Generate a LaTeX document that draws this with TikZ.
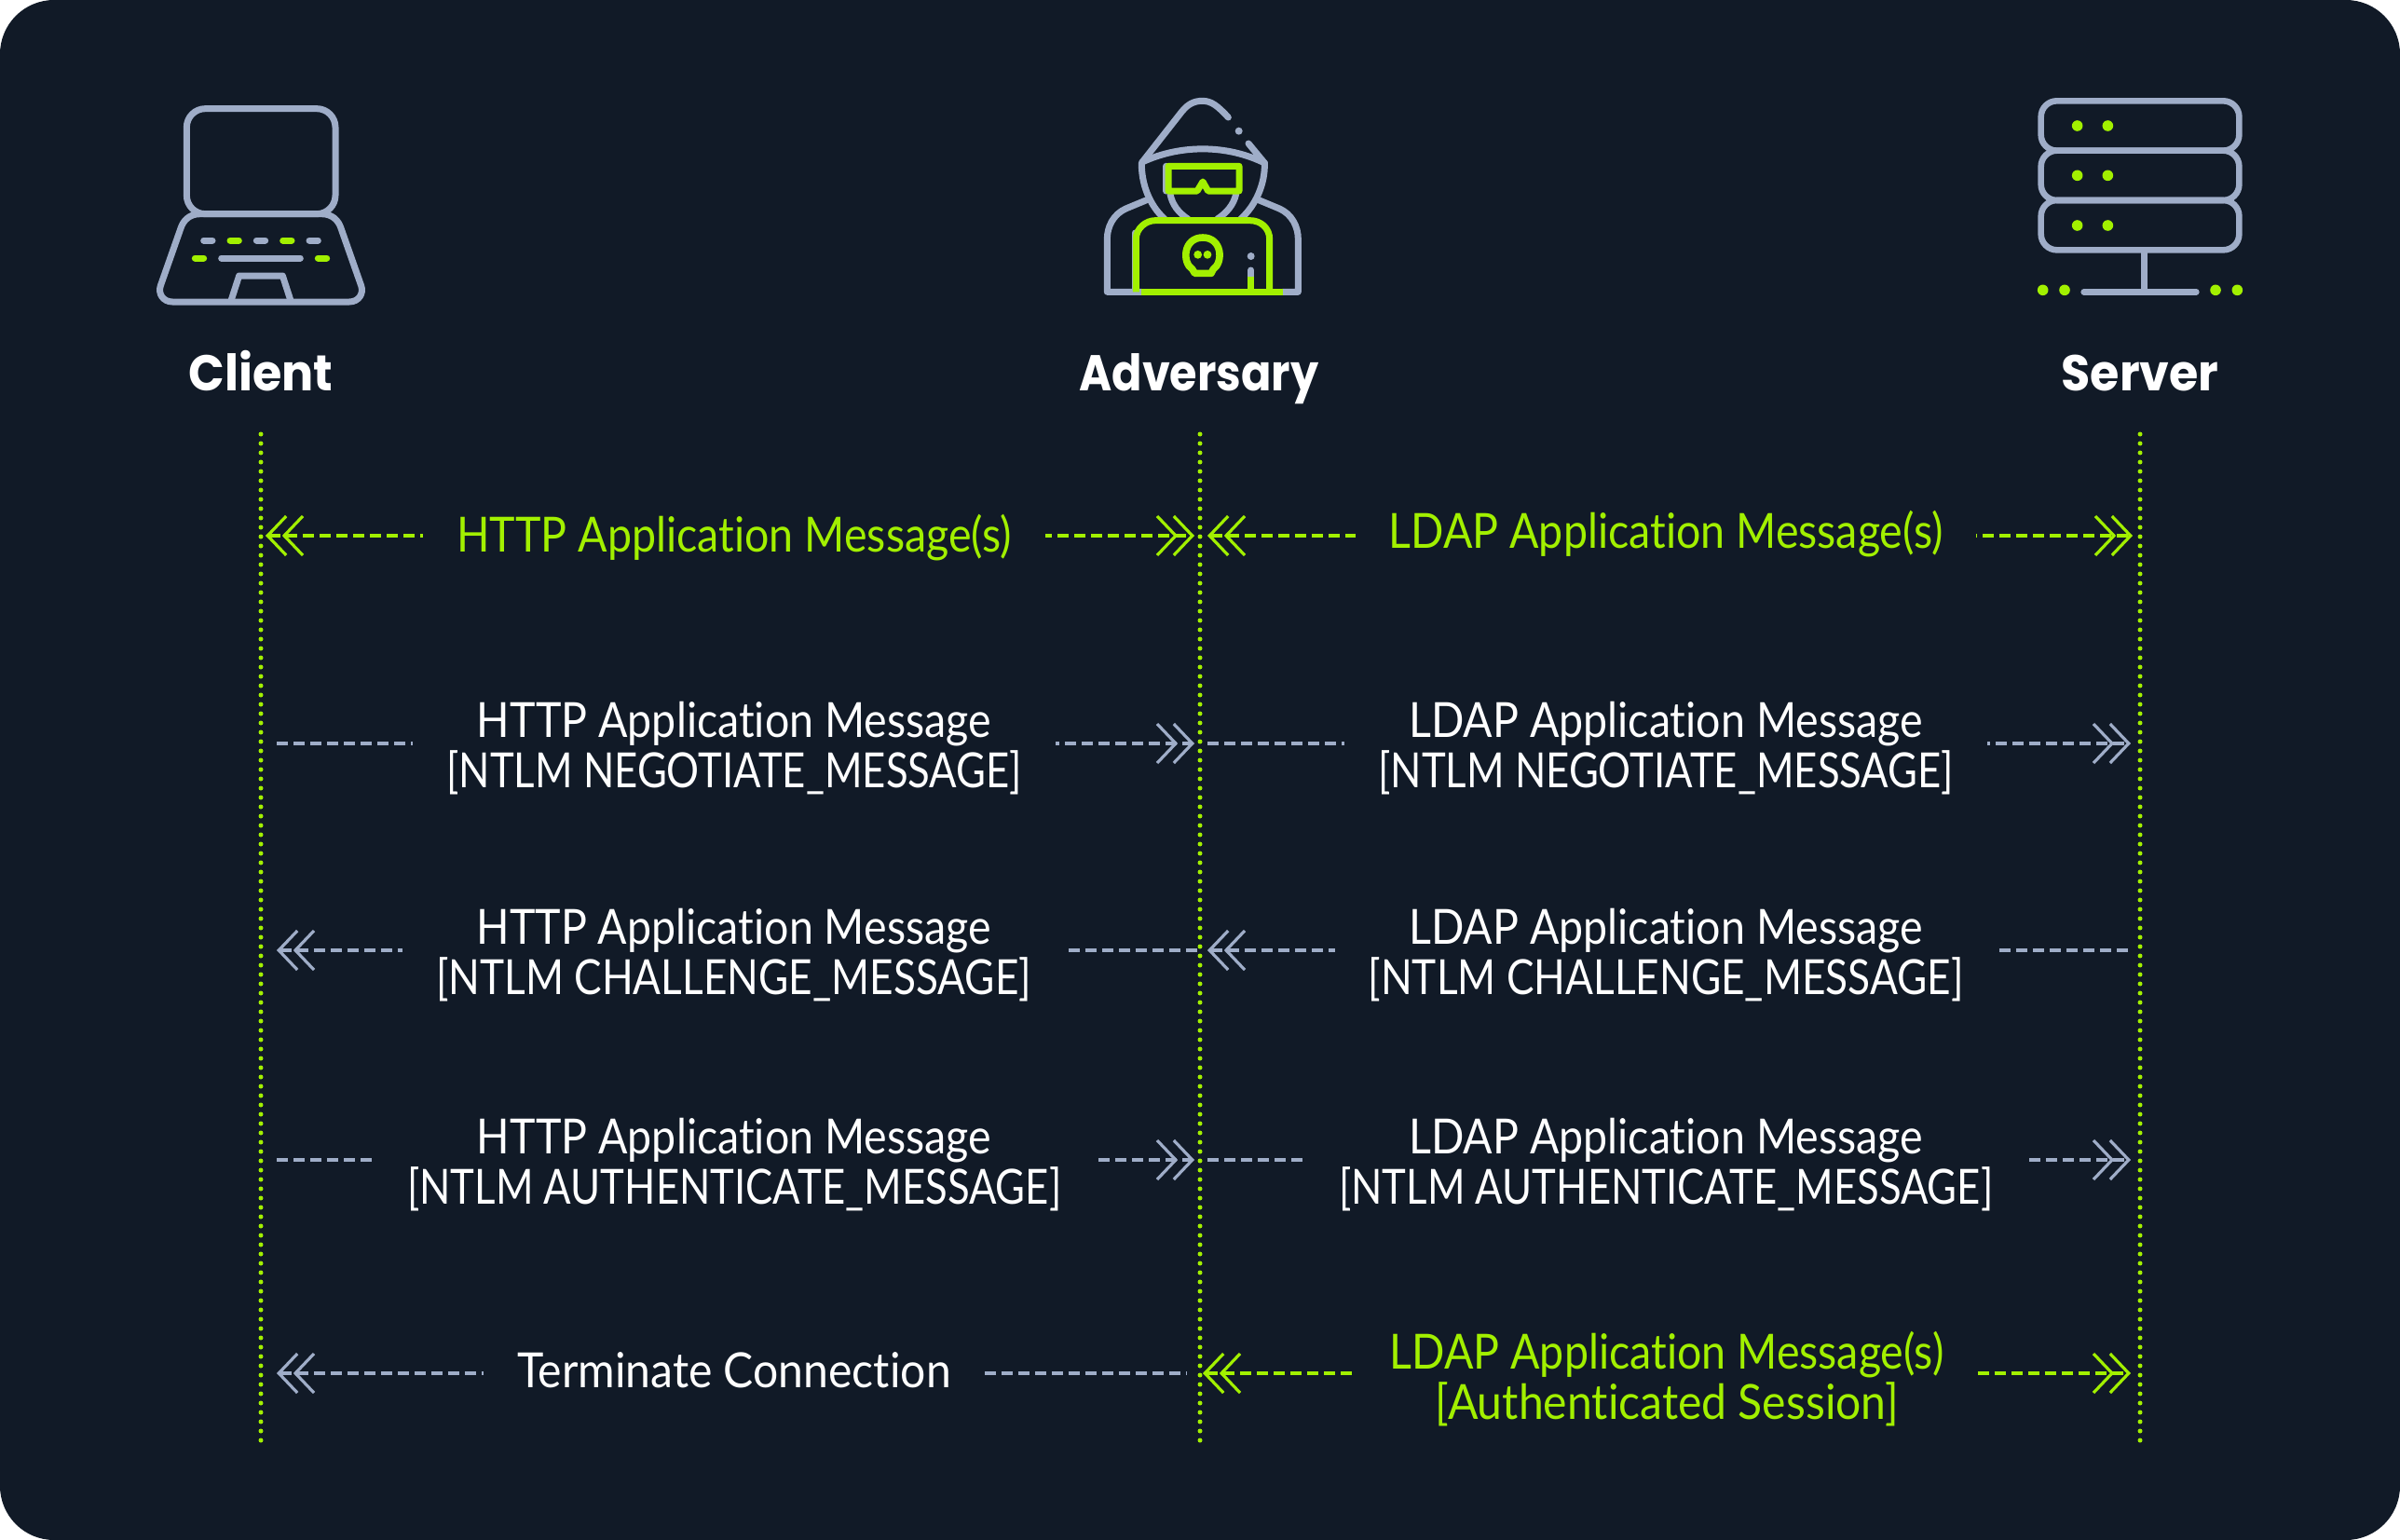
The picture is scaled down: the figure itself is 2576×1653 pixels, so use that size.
\documentclass[tikz,border=0pt]{standalone}
\usepackage{fontspec}
\setmainfont{Lato}[FakeStretch=0.895,Ligatures={NoCommon}]
\newfontfamily\capsfont{Lato}[FakeStretch=0.84,Ligatures={NoCommon}]
\newfontfamily\chalfont{Lato}[FakeStretch=0.85,Ligatures={NoCommon}]
\newfontfamily\wideFont{Lato}[FakeStretch=0.925,Ligatures={NoCommon}]
\newfontfamily\headfont{Poppins}[FakeStretch=0.94]
\newfontfamily\headfontB{Poppins}[FakeStretch=0.885]
\usetikzlibrary{arrows.meta}

\definecolor{cardBg}{HTML}{111A27}
\definecolor{limeC}{HTML}{A2F000}
\definecolor{steelC}{HTML}{9FADC8}

\tikzset{
    Dbl/.tip={Straight Barb[length=10pt,width=21pt,line width=1.6pt,sep=-3pt] Straight Barb[length=10pt,width=21pt,line width=1.6pt]}
}
\tikzstyle{pS}=[coordinate]
\tikzstyle{hS}=[text=white,inner sep=0pt,anchor=base,font=\bfseries\fontsize{27}{30}\selectfont]
\tikzstyle{lifeS}=[draw=limeC,line width=2.5pt,line cap=round,dash pattern=on 0pt off 5pt]
\tikzstyle{eS}=[draw=steelC,line width=1.7pt,dash pattern=on 6pt off 3pt]
\tikzstyle{eG}=[draw=limeC,line width=1.7pt,dash pattern=on 6pt off 3pt]
\tikzstyle{eNS}=[fill=cardBg,text=white,inner xsep=18pt,inner ysep=0pt,align=center,font=\fontsize{26}{27}\selectfont]
\tikzstyle{eNG}=[eNS,text=limeC]
\tikzstyle{iS}=[draw=steelC,line width=3.5pt,line cap=round,line join=round]
\tikzstyle{iG}=[draw=limeC,line width=3.5pt,line cap=round,line join=round]

\begin{document}
\begin{tikzpicture}[x=0.5pt,y=-0.5pt]
    \useasboundingbox (0,0) rectangle (2576,1653);
    \fill[white] (0,0) rectangle (2576,1653);
    \fill[cardBg,rounded corners=29pt] (0,0) rectangle (2576,1653);

    % laptop
    \begin{scope}[shift={(130,80)},x=0.16667pt,y=-0.16667pt]
        \draw[iS,rounded corners=10pt] (211,449) -- (211,110) -- (690,110) -- (690,449) -- cycle;
        \draw[iS] (255,449) -- (645,449) .. controls (680,449) and (700,470) .. (708,495) -- (773,680)
            .. controls (782,705) and (765,732) .. (735,732) -- (165,732)
            .. controls (135,732) and (118,705) .. (127,680) -- (192,495)
            .. controls (200,470) and (220,449) .. (255,449) -- cycle;
        \draw[iS] (355,725) -- (380,648) -- (520,648) -- (545,725);
        \draw[iS] (266,534) -- (294,534) (436,534) -- (464,534) (606,534) -- (634,534) (323,591) -- (577,591);
        \draw[iG] (351,534) -- (379,534) (521,534) -- (549,534) (238,591) -- (266,591) (634,591) -- (662,591);
    \end{scope}

    % adversary
    \begin{scope}[shift={(1150,80)},x=0.16667pt,y=-0.16667pt]
        \draw[iS] (505,138) .. controls (470,100) and (450,85) .. (422,85) .. controls (395,85) and (375,95) .. (355,120) -- (228,282);
        \draw[iS] (570,222) -- (622,285);
        \fill[steelC] (539,182) circle[radius=2pt];
        \draw[iS] (228,282) .. controls (350,225) and (500,225) .. (622,285);
        \draw[iS] (226,285) .. controls (225,350) and (250,420) .. (300,465);
        \draw[iS] (622,285) .. controls (624,350) and (595,420) .. (545,465);
        \draw[iS] (240,405) -- (175,432) .. controls (135,450) and (115,490) .. (115,530) -- (115,700) -- (225,700);
        \draw[iS] (605,405) -- (670,432) .. controls (710,450) and (730,490) .. (730,530) -- (730,700) -- (680,700);
        \draw[iS] (318,385) .. controls (325,420) and (345,445) .. (375,465);
        \draw[iS] (530,385) .. controls (522,420) and (500,445) .. (470,465);
        \draw[iS] (305,295) -- (305,375);
        \draw[iS] (205,510) -- (205,700);
        \draw[iG] (312,295) -- (540,295) -- (540,375) -- (440,375) -- (423,345) -- (405,375) -- (312,375) -- cycle;
        \draw[iG,line cap=butt] (208,700) -- (208,530) .. controls (208,495) and (240,470) .. (270,470)
            -- (575,470) .. controls (610,470) and (638,495) .. (638,530) -- (638,700);
        \draw[iG,line cap=butt] (225,700) -- (680,700);
        \draw[iG,line width=3.8pt] (390,628) .. controls (355,605) and (360,525) .. (423,525) .. controls (486,525) and (490,605) .. (456,628) -- (450,640) -- (397,640) -- cycle;
        \fill[limeC] (407,580) circle[radius=2.2pt] (438,580) circle[radius=2.2pt];
        \fill[steelC] (578,585) circle[radius=2pt];
        \draw[iS] (578,630) -- (578,650);
        \draw[iG,line cap=butt] (578,650) -- (578,700);
    \end{scope}

    % server
    \begin{scope}[shift={(2150,80)},x=0.16667pt,y=-0.16667pt]
        \draw[iS,line width=3.3pt,rounded corners=8.5pt] (122,85) rectangle (760,245);
        \draw[iS,line width=3.3pt,rounded corners=8.5pt] (122,245) rectangle (760,405);
        \draw[iS,line width=3.3pt,rounded corners=8.5pt] (122,405) rectangle (760,565);
        \draw[iS,line width=3.3pt] (455,565) -- (455,700) (260,700) -- (622,700);
        \fill[limeC] (239,165) circle[radius=2.9pt] (337,165) circle[radius=2.9pt]
            (239,325) circle[radius=2.9pt] (337,325) circle[radius=2.9pt]
            (239,486) circle[radius=2.9pt] (337,486) circle[radius=2.9pt]
            (128,694) circle[radius=2.9pt] (198,694) circle[radius=2.9pt]
            (684,694) circle[radius=2.9pt] (754,694) circle[radius=2.9pt];
    \end{scope}

    \draw (280,419) node[hS] (hClient) {\headfont\bfseries Client};
    \draw (1287,419) node[hS] (hAdv) {\headfontB\bfseries Adversary};
    \draw (2297,419) node[hS] (hServer) {\headfont\bfseries Server};

    \draw (280,466) node[pS] (cTop) {};
    \draw (280,1548) node[pS] (cBot) {};
    \draw (1288,466) node[pS] (aTop) {};
    \draw (1288,1548) node[pS] (aBot) {};
    \draw (2297,466) node[pS] (sTop) {};
    \draw (2297,1548) node[pS] (sBot) {};
    \path
        (cTop) edge[lifeS] (cBot)
        (aTop) edge[lifeS] (aBot)
        (sTop) edge[lifeS] (sBot)
    ;

    % left half
    \draw (285,575) node[pS] (c1) {};
    \draw (1282,575) node[pS] (a1) {};
    \draw (297,798) node[pS] (c2) {};
    \draw (1282,798) node[pS] (a2) {};
    \draw (297,1020) node[pS] (c3) {};
    \draw (1288,1020) node[pS] (a3) {};
    \draw (297,1245) node[pS] (c4) {};
    \draw (1282,1245) node[pS] (a4) {};
    \draw (297,1474) node[pS] (c5) {};
    \draw (1274,1474) node[pS] (a5) {};
    \path
        (c1) edge[eG,arrows={Dbl-Dbl}] node[eNG,pos=.5045,yshift=-.8pt] (mH1) {HTTP Application Message(s)} (a1)
        (c2) edge[eS,arrows={-Dbl}] node[eNS,pos=.4985,yshift=-2.7pt] (mH2) {HTTP Application Message\\{\capsfont[NTLM NEGOTIATE\_MESSAGE]}} (a2)
        (c3) edge[eS,arrows={Dbl-}] node[eNS,pos=.495,yshift=-2.7pt] (mH3) {HTTP Application Message\\{\chalfont[NTLM CHALLENGE\_MESSAGE]}} (a3)
        (c4) edge[eS,arrows={-Dbl}] node[eNS,pos=.4985,yshift=-2.7pt] (mH4) {HTTP Application Message\\{\capsfont[NTLM AUTHENTICATE\_MESSAGE]}} (a4)
        (c5) edge[eS,arrows={Dbl-}] node[eNS,pos=.5025,yshift=1.6pt] (mH5) {\wideFont Terminate Connection} (a5)
    ;

    % right half
    \draw (1296,575) node[pS] (b1) {};
    \draw (2289,575) node[pS] (s1) {};
    \draw (1296,798) node[pS] (b2) {};
    \draw (2287,798) node[pS] (s2) {};
    \draw (1296,1020) node[pS] (b3) {};
    \draw (2287,1020) node[pS] (s3) {};
    \draw (1296,1245) node[pS] (b4) {};
    \draw (2287,1245) node[pS] (s4) {};
    \draw (1291,1474) node[pS] (b5) {};
    \draw (2287,1474) node[pS] (s5) {};
    \path
        (b1) edge[eG,arrows={Dbl-Dbl}] node[eNG,pos=.4955,yshift=.8pt] (mL1) {LDAP Application Message(s)} (s1)
        (b2) edge[eS,arrows={-Dbl}] node[eNS,pos=.4965,yshift=-2.7pt] (mL2) {LDAP Application Message\\{\capsfont[NTLM NEGOTIATE\_MESSAGE]}} (s2)
        (b3) edge[eS,arrows={Dbl-}] node[eNS,pos=.4965,yshift=-2.7pt] (mL3) {LDAP Application Message\\{\chalfont[NTLM CHALLENGE\_MESSAGE]}} (s3)
        (b4) edge[eS,arrows={-Dbl}] node[eNS,pos=.4965,yshift=-2.7pt] (mL4) {LDAP Application Message\\{\capsfont[NTLM AUTHENTICATE\_MESSAGE]}} (s4)
        (b5) edge[eG,arrows={Dbl-Dbl}] node[eNG,pos=.5,yshift=-3pt] (mL5) {LDAP Application Message(s)\\{\wideFont[Authenticated Session]}} (s5)
    ;
\end{tikzpicture}
\end{document}
